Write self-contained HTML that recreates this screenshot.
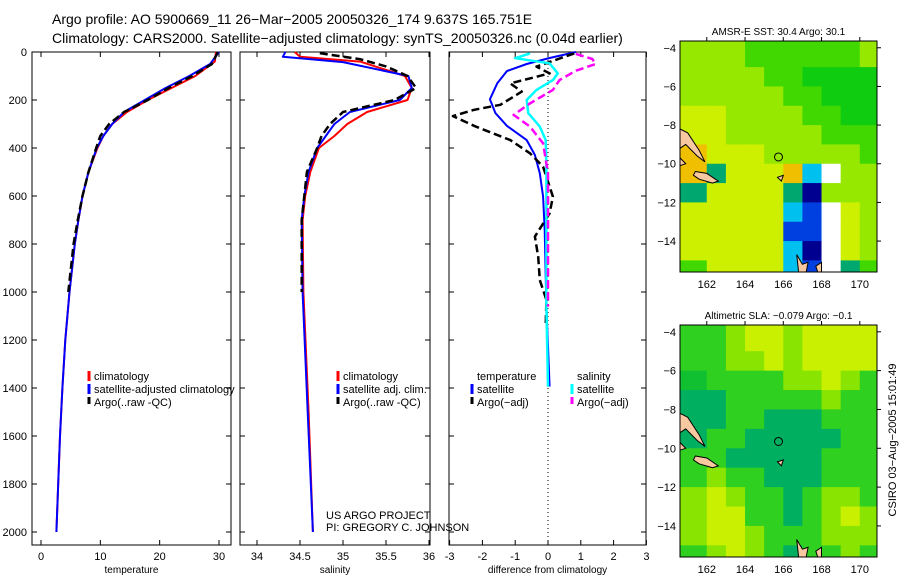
<!DOCTYPE html>
<html><head><meta charset="utf-8"><style>
body{margin:0;background:#fff;}
svg{display:block;font-family:"Liberation Sans",sans-serif;}
</style></head><body>
<svg id="fig" width="900" height="580" viewBox="0 0 900 580">
<rect width="900" height="580" fill="#fff"/>
<text x="52" y="24" font-size="14">Argo profile: AO 5900669_11 26−Mar−2005 20050326_174 9.637S 165.751E</text>
<text x="52" y="43" font-size="14">Climatology: CARS2000. Satellite−adjusted climatology: synTS_20050326.nc (0.04d earlier)</text>
<g id="g"></g>
</svg>
<script>
// ---- profile data: [depth, value]
const tempClim=[[0,29.5],[40,29.3],[100,26],[150,22],[200,18],[250,14.5],[300,12],[350,10.5],[400,9.5],[500,8],[600,7],[700,6.3],[800,5.7],[1000,4.8],[1200,4.1],[1400,3.6],[1600,3.2],[1800,2.9],[2000,2.6]];
const tempSat=[[0,30],[50,28.5],[100,25],[150,21],[200,17.5],[250,14],[300,12],[350,10.5],[400,9.4],[500,8],[600,7],[700,6.3],[800,5.7],[1000,4.8],[1200,4.1],[1400,3.6],[1600,3.2],[1800,2.9],[2000,2.6]];
const tempArgo=[[0,29.8],[50,28.8],[100,25.5],[150,21.5],[200,18],[250,14],[300,11.5],[350,10],[400,9.3],[500,8],[600,7],[700,6.2],[800,5.5],[1000,4.6]];
const salClim=[[0,34.44],[20,34.5],[40,35.2],[100,35.72],[150,35.8],[200,35.75],[250,35.28],[300,35.05],[350,34.9],[400,34.72],[500,34.62],[600,34.56],[700,34.53],[1000,34.54],[1500,34.6],[2000,34.65]];
const salSat=[[0,34.33],[20,34.3],[42,35.0],[100,35.76],[150,35.8],[200,35.66],[250,35.08],[300,34.9],[350,34.8],[400,34.7],[500,34.6],[600,34.55],[700,34.52],[1000,34.53],[1500,34.59],[2000,34.65]];
const salArgo=[[5,34.73],[30,35.2],[60,35.5],[100,35.75],[150,35.85],[200,35.6],[250,35.0],[300,34.85],[350,34.75],[400,34.7],[500,34.58],[700,34.52],[1000,34.52]];
const dTempSat=[[0,0.85],[25,0.05],[50,-0.65],[79,-1.25],[131,-1.55],[197,-1.77],[255,-1.6],[308,-1.25],[367,-0.65],[429,-0.4],[505,-0.25],[603,-0.15],[742,-0.1],[1061,-0.05],[1394,0.05]];
const dSalSat=[[6,-0.55],[26,-1.0],[47,0.05],[89,0.3],[117,0.15],[158,-0.35],[200,-0.65],[255,-0.6],[311,-0.25],[367,-0.07],[478,-0.05],[1061,-0.05],[1394,0]];
const dTempArgo=[[6,0.8],[61,-0.35],[89,0.05],[131,-1.15],[165,-0.8],[220,-1.45],[241,-2.25],[267,-2.9],[311,-2.2],[367,-1.15],[422,-0.55],[478,-0.15],[603,0.15],[672,0.05],[769,-0.4],[853,-0.3],[950,-0.25],[1033,-0.05],[1144,-0.07]];
const dSalArgo=[[8,0.85],[29,1.35],[50,1.45],[78,0.85],[117,0.35],[158,0.15],[214,-0.55],[262,-1.05],[311,-0.55],[381,-0.15],[506,0],[1061,0]];
const depthTicks=[0,200,400,600,800,1000,1200,1400,1600,1800,2000];
const tempTicks=[0,10,20,30];
const salTicks=[34,34.5,35,35.5,36];
const salTickLabels=["34","34.5","35","35.5","36"];
const diffTicks=[-3,-2,-1,0,1,2,3];
// ---- map data (1-degree cells, rows lat -4 .. -15, cols lon 161..170)
const sstRows=["LLLGGGGGGL","LLLLGGDDDD","LLLLLGGDDD","YYLLLLGGDD","YYLLLLLGGG","OYYYLLLLLG","OTYYYOCWLL","TYYYYTNLLL","YYYYYCBWYL","YYYYYBBWYL","YYYYYCNWYL","GYYYYCBWTG"];
const slaRows=["GGLYYLYYYY","GGLLYLYYYY","DGGGGLLYLG","TTGGGGGLGG","TTGGTTTGGG","TGGTTTTTGG","GGTTTTTGGG","GLGGTTTGGG","LYLGGTGLLG","LYYGGTGLYL","LYYLGGGLLL","GLYLGTGGLG"];
const mapTicksX=[162,164,166,168,170];
const mapTicksY=[-4,-6,-8,-10,-12,-14];
const sstColors={Y:"#cdf000",L:"#96e800",G:"#40d800",D:"#10cc10",O:"#f0c000",B:"#0040e0",N:"#000090",C:"#00c0f0",T:"#00a870",W:"#ffffff"};
const slaColors={Y:"#c8f000",L:"#88e400",G:"#30d020",D:"#10c030",T:"#00b060"};

const NS="http://www.w3.org/2000/svg";
const G=document.getElementById('g');
function el(tag,attrs,parent){const e=document.createElementNS(NS,tag);for(const k in attrs)e.setAttribute(k,attrs[k]);(parent||G).appendChild(e);return e;}
const yD=d=>52+0.24*d;
const panels=[
 {x0:32,x1:231,sx:v=>41+v*(178/30),ticks:tempTicks,labels:tempTicks.map(String),title:"temperature",name:"temperature-panel"},
 {x0:240,x1:430,sx:v=>257+(v-34)*86,ticks:salTicks,labels:salTickLabels,title:"salinity",name:"salinity-panel"},
 {x0:449,x1:646,sx:v=>548+v*32.8,ticks:diffTicks,labels:diffTicks.map(String),title:"difference from climatology",name:"difference-panel"}];
panels.forEach((p,i)=>{
 const g=el('g',{});
 
 
 const r=el('rect',{x:p.x0,y:52,width:p.x1-p.x0,height:493,fill:'#fff',stroke:'#000','stroke-width':1},g);
 
 
 p.ticks.forEach((t,j)=>{
  const x=p.sx(t);
  el('line',{x1:x,y1:545,x2:x,y2:540,stroke:'#000'},g);
  el('line',{x1:x,y1:52,x2:x,y2:57,stroke:'#000'},g);
  const tx=el('text',{x:x,y:560,'font-size':11,'text-anchor':'middle'},g);
  tx.textContent=p.labels[j];
  
  
 });
 depthTicks.forEach(d=>{
  el('line',{x1:p.x0,y1:yD(d),x2:p.x0+5,y2:yD(d),stroke:'#000'},g);
  el('line',{x1:p.x1,y1:yD(d),x2:p.x1-5,y2:yD(d),stroke:'#000'},g);
  if(i===0){const t=el('text',{x:27,y:yD(d)+4,'font-size':11,'text-anchor':'end'},g);t.textContent=d;
   
   }
 });
 const tt=el('text',{x:(p.x0+p.x1)/2,y:573,'font-size':10,'text-anchor':'middle'},g);
 tt.textContent=p.title;
 
 
});
function line(arr,p,color,dash,w,name){
 const pts=arr.map(a=>p.sx(a[1]).toFixed(1)+','+yD(a[0]).toFixed(1)).join(' ');
 const e=el('polyline',{points:pts,fill:'none',stroke:color,'stroke-width':w||2,'stroke-dasharray':dash||'none','stroke-linejoin':'round'});
 
 
}
// zero dotted line
el('line',{x1:548,y1:52,x2:548,y2:545,stroke:'#000','stroke-width':1,'stroke-dasharray':'1,3'});
line(tempClim,panels[0],'#f00',null,2,'temperature-climatology-line');
line(tempSat,panels[0],'#00f',null,2,'temperature-satellite-line');
line(tempArgo,panels[0],'#000','8,4',2.5,'temperature-argo-line');
line(salClim,panels[1],'#f00',null,2,'salinity-climatology-line');
line(salSat,panels[1],'#00f',null,2,'salinity-satellite-line');
line(salArgo,panels[1],'#000','8,4',2.5,'salinity-argo-line');
line(dTempSat,panels[2],'#00f',null,2,'diff-temperature-satellite-line');
line(dTempArgo,panels[2],'#000','8,4',2.5,'diff-temperature-argo-line');
line(dSalSat,panels[2],'#0ff',null,2.5,'diff-salinity-satellite-line');
line(dSalArgo,panels[2],'#f0f','8,4',2.5,'diff-salinity-argo-line');
// legends
function legend(x,y,items,name){
 const g=el('g',{});
 
 
 items.forEach((it,k)=>{
  const yy=y+k*13;
  if(it[1])el('line',{x1:x,y1:yy-9,x2:x,y2:yy+1,stroke:it[1],'stroke-width':3,'stroke-dasharray':it[2]?'7,3':'none'},g);
  const t=el('text',{x:x+5,y:yy,'font-size':11},g);t.textContent=it[0];
 });
}
legend(89,380,[["climatology","#f00"],["satellite-adjusted climatology","#00f"],["Argo(..raw -QC)","#000",1]],'temperature-legend');
legend(338,380,[["climatology","#f00"],["satellite adj. clim.","#00f"],["Argo(..raw -QC)","#000",1]],'salinity-legend');
legend(472,380,[["temperature",null],["satellite","#00f"],["Argo(−adj)","#000",1]],'temperature-diff-legend');
legend(572,380,[["salinity",null],["satellite","#0ff"],["Argo(−adj)","#f0f",1]],'salinity-diff-legend');
const f1=el('text',{x:326,y:519,'font-size':11});f1.textContent="US ARGO PROJECT";


const f2=el('text',{x:326,y:531,'font-size':11});f2.textContent="PI: GREGORY C. JOHNSON";


// maps
function map(y0,y1,latTop,latBot,rows,colors,title,name){
 const x0=680,x1=877,lonL=160.6,lonR=170.9;
 const mx=lon=>x0+(lon-lonL)/(lonR-lonL)*(x1-x0);
 const my=lat=>y0+(latTop-lat)/(latTop-latBot)*(y1-y0);
 const g=el('g',{});
 
 
 rows.forEach((row,r)=>{
  for(let c=0;c<row.length;c++){
   const la=-3.6-(r===0?0:r+0.4), lb=-4-(r+1)+ (r===11?-0.6:0);
   const latA=r===0?latTop:-4-r, latB=r===11?latBot:-5-r;
   const lo0=c===0?lonL:161+c, lo1=c===9?lonR:162+c;
   const cell=el('rect',{x:mx(lo0),y:my(latA),width:mx(lo1)-mx(lo0)+0.5,height:my(latB)-my(latA)+0.5,fill:colors[row[c]]},g);
   
   
  }
 });
 // islands
 const isl=[[[160.6,-8.2],[161,-8.4],[161.6,-9.3],[161.9,-9.9],[161.5,-9.6],[160.9,-9.0],[160.6,-9.2]],
  [[161.4,-10.4],[162,-10.5],[162.6,-10.9],[162.3,-11.0],[161.6,-10.8],[161.3,-10.6]],
  [[160.6,-9.7],[160.9,-10.0],[160.6,-10.1]],
  [[165.7,-10.7],[166.0,-10.6],[165.9,-10.9]],
  [[166.7,-14.7],[167.0,-15.2],[167.3,-15.1],[167.2,-15.6],[166.8,-15.6]],
  [[167.7,-15.3],[168.0,-15.1],[168.0,-15.6],[167.8,-15.6]]];
 isl.forEach(poly=>{
  const e=el('polygon',{points:poly.map(p=>mx(p[0]).toFixed(1)+','+my(p[1]).toFixed(1)).join(' '),fill:'#f8c8a0',stroke:'#000','stroke-width':1},g);
  
  
 });
 const ci=el('circle',{cx:mx(165.75),cy:my(-9.65),r:4,fill:'none',stroke:'#000','stroke-width':1},g);
 
 
 el('rect',{x:x0,y:y0,width:x1-x0,height:y1-y0,fill:'none',stroke:'#000'},g);
 mapTicksX.forEach(t=>{const x=mx(t);el('line',{x1:x,y1:y0,x2:x,y2:y0-4,stroke:'#000'},g);
  const tx=el('text',{x:x,y:y1+16,'font-size':11,'text-anchor':'middle'},g);tx.textContent=t;});
 mapTicksY.forEach(t=>{const y=my(t);el('line',{x1:x1,y1:y,x2:x1+4,y2:y,stroke:'#000'},g);
  const tx=el('text',{x:x0-4,y:y+4,'font-size':11,'text-anchor':'end'},g);tx.textContent=String(t).replace('-','−');});
 const tt=el('text',{x:(x0+x1)/2,y:y0-6,'font-size':10,'text-anchor':'middle'},g);tt.textContent=title;
 
 
}
map(41,272,-3.65,-15.6,sstRows,sstColors,"AMSR-E SST: 30.4 Argo: 30.1",'sst-map');
map(325,557,-3.65,-15.6,slaRows,slaColors,"Altimetric SLA: −0.079 Argo: −0.1",'sla-map');
const cs=el('text',{x:0,y:0,'font-size':11,'text-anchor':'middle',transform:'translate(896,440) rotate(-90)'});
cs.textContent="CSIRO 03−Aug−2005 15:01:49";


</script>
</body></html>
